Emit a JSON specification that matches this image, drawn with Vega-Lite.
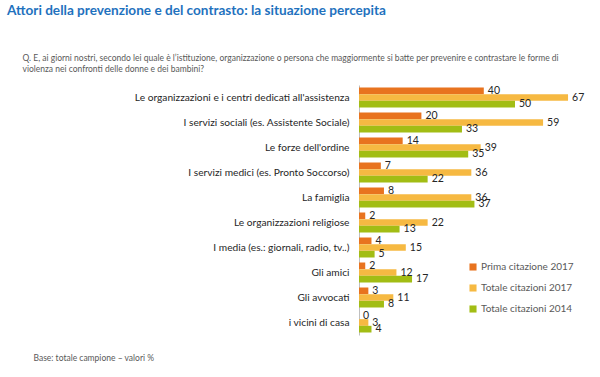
{
  "$schema": "https://vega.github.io/schema/vega-lite/v6.json",
  "autosize": "none",
  "padding": {"left": 359, "top": 85, "right": 7, "bottom": 42},
  "width": 234,
  "height": 250,
  "background": "white",
  "title": {
    "text": "Attori della prevenzione e del contrasto: la situazione percepita",
    "anchor": "start",
    "frame": "group",
    "dx": -352,
    "offset": 35,
    "font": "Lato",
    "fontSize": 13.6,
    "fontWeight": "bold",
    "color": "#1F72BE"
  },
  "config": {
    "view": {"stroke": null},
    "font": "Lato"
  },
  "data": {
    "values": [
      {"cat": "Le organizzazioni e i centri dedicati all'assistenza", "serie": "Prima citazione 2017", "value": 40},
      {"cat": "Le organizzazioni e i centri dedicati all'assistenza", "serie": "Totale citazioni 2017", "value": 67},
      {"cat": "Le organizzazioni e i centri dedicati all'assistenza", "serie": "Totale citazioni 2014", "value": 50},
      {"cat": "I servizi sociali (es. Assistente Sociale)", "serie": "Prima citazione 2017", "value": 20},
      {"cat": "I servizi sociali (es. Assistente Sociale)", "serie": "Totale citazioni 2017", "value": 59},
      {"cat": "I servizi sociali (es. Assistente Sociale)", "serie": "Totale citazioni 2014", "value": 33},
      {"cat": "Le forze dell'ordine", "serie": "Prima citazione 2017", "value": 14},
      {"cat": "Le forze dell'ordine", "serie": "Totale citazioni 2017", "value": 39},
      {"cat": "Le forze dell'ordine", "serie": "Totale citazioni 2014", "value": 35},
      {"cat": "I servizi medici (es. Pronto Soccorso)", "serie": "Prima citazione 2017", "value": 7},
      {"cat": "I servizi medici (es. Pronto Soccorso)", "serie": "Totale citazioni 2017", "value": 36},
      {"cat": "I servizi medici (es. Pronto Soccorso)", "serie": "Totale citazioni 2014", "value": 22},
      {"cat": "La famiglia", "serie": "Prima citazione 2017", "value": 8},
      {"cat": "La famiglia", "serie": "Totale citazioni 2017", "value": 36},
      {"cat": "La famiglia", "serie": "Totale citazioni 2014", "value": 37},
      {"cat": "Le organizzazioni religiose", "serie": "Prima citazione 2017", "value": 2},
      {"cat": "Le organizzazioni religiose", "serie": "Totale citazioni 2017", "value": 22},
      {"cat": "Le organizzazioni religiose", "serie": "Totale citazioni 2014", "value": 13},
      {"cat": "I media (es.: giornali, radio, tv..)", "serie": "Prima citazione 2017", "value": 4},
      {"cat": "I media (es.: giornali, radio, tv..)", "serie": "Totale citazioni 2017", "value": 15},
      {"cat": "I media (es.: giornali, radio, tv..)", "serie": "Totale citazioni 2014", "value": 5},
      {"cat": "Gli amici", "serie": "Prima citazione 2017", "value": 2},
      {"cat": "Gli amici", "serie": "Totale citazioni 2017", "value": 12},
      {"cat": "Gli amici", "serie": "Totale citazioni 2014", "value": 17},
      {"cat": "Gli avvocati", "serie": "Prima citazione 2017", "value": 3},
      {"cat": "Gli avvocati", "serie": "Totale citazioni 2017", "value": 11},
      {"cat": "Gli avvocati", "serie": "Totale citazioni 2014", "value": 8},
      {"cat": "i vicini di casa", "serie": "Prima citazione 2017", "value": 0},
      {"cat": "i vicini di casa", "serie": "Totale citazioni 2017", "value": 3},
      {"cat": "i vicini di casa", "serie": "Totale citazioni 2014", "value": 4}
    ]
  },
  "encoding": {
    "y": {
      "field": "cat",
      "type": "nominal",
      "sort": null,
      "scale": {"paddingInner": 0.2, "paddingOuter": 0.1},
      "axis": {
        "title": ["Q. E, ai giorni nostri, secondo lei quale è l’istituzione, organizzazione o persona che maggiormente si batte per prevenire e contrastare le forme di", "violenza nei confronti delle donne e dei bambini?"],
        "titleAngle": 0,
        "titleAlign": "left",
        "titleBaseline": "alphabetic",
        "titleX": -337,
        "titleY": -25,
        "titleFont": "Lato",
        "titleFontSize": 8.5,
        "titleFontWeight": "normal",
        "titleColor": "#595959",
        "titleLineHeight": 11,
        "labelFont": "Lato",
        "labelFontSize": 10.2,
        "labelColor": "#262626",
        "labelPadding": 10,
        "labelLimit": 400,
        "ticks": false,
        "domainColor": "#BFBFBF",
        "domainWidth": 1,
        "grid": false
      }
    },
    "yOffset": {
      "field": "serie",
      "type": "nominal",
      "sort": ["Prima citazione 2017", "Totale citazioni 2017", "Totale citazioni 2014"],
      "scale": {"paddingInner": 0, "paddingOuter": 0}
    },
    "x": {
      "field": "value",
      "type": "quantitative",
      "scale": {"domain": [0, 75], "nice": false},
      "axis": {
        "title": "Base: totale campione – valori %",
        "titleX": -326,
        "titleY": 25,
        "titleAlign": "left",
        "titleBaseline": "alphabetic",
        "titleAnchor": null,
        "titleFont": "Lato",
        "titleFontSize": 8.5,
        "titleFontWeight": "normal",
        "titleColor": "#595959",
        "labels": false,
        "ticks": false,
        "domain": false,
        "grid": false
      }
    }
  },
  "layer": [
    {
      "mark": {"type": "bar", "height": {"band": 1}},
      "encoding": {
        "color": {
          "field": "serie",
          "type": "nominal",
          "sort": ["Prima citazione 2017", "Totale citazioni 2017", "Totale citazioni 2014"],
          "scale": {
            "domain": ["Prima citazione 2017", "Totale citazioni 2017", "Totale citazioni 2014"],
            "range": ["#E8731F", "#F6B942", "#A2BD14"]
          },
          "legend": {
            "orient": "none",
            "legendX": 109,
            "legendY": 177,
            "title": null,
            "symbolType": "square",
            "symbolSize": 50,
            "symbolStrokeWidth": 0,
            "labelFont": "Lato",
            "labelFontSize": 10,
            "labelColor": "#595959",
            "rowPadding": 11,
            "labelOffset": 3
          }
        }
      }
    },
    {
      "mark": {"type": "text", "align": "left", "baseline": "middle", "dx": 4, "font": "Lato", "fontSize": 10.5, "color": "#262626"},
      "encoding": {
        "text": {"field": "value", "type": "quantitative"}
      }
    }
  ]
}
